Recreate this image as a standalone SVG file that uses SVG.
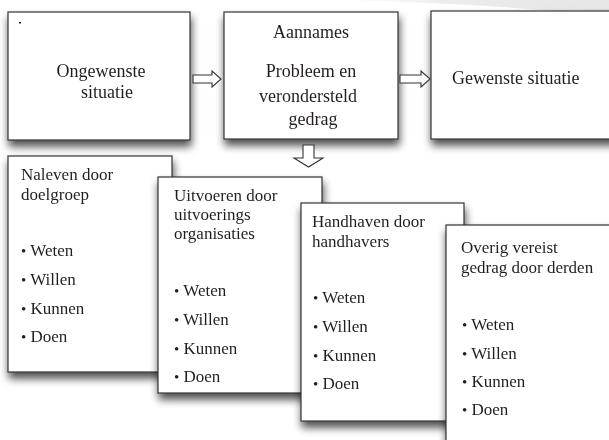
<svg xmlns="http://www.w3.org/2000/svg" width="609" height="440" viewBox="0 0 609 440">
  <defs>
    <filter id="shadow" x="-20%" y="-20%" width="140%" height="150%">
      <feGaussianBlur in="SourceAlpha" stdDeviation="4.5"/>
      <feOffset dx="1" dy="6" result="blur"/>
      <feComponentTransfer>
        <feFuncA type="linear" slope="0.7"/>
      </feComponentTransfer>
      <feMerge>
        <feMergeNode/>
        <feMergeNode in="SourceGraphic"/>
      </feMerge>
    </filter>
    <linearGradient id="swoosh" x1="0" y1="0" x2="1" y2="0">
      <stop offset="0" stop-color="#f4f4f4" stop-opacity="0"/>
      <stop offset="0.4" stop-color="#ececec"/>
      <stop offset="1" stop-color="#e6e6e6"/>
    </linearGradient>
  </defs>
  <style>
    .box { fill: #ffffff; stroke: #333333; stroke-width: 1.2; }
    .t { font-family: "Liberation Serif", "Times New Roman", serif; fill: #231f20; }
    .top { font-size: 18px; }
    .sub { font-size: 17px; }
    .dot { font-size: 15px; }
    .arrow { fill: #ffffff; stroke: #333333; stroke-width: 1.1; stroke-linejoin: miter; }
  </style>

  <rect width="609" height="440" fill="#ffffff"/>
  <!-- faint background swoosh along the top edge -->
  <path d="M330,0 L609,0 L609,16 Q470,2 330,0 Z" fill="url(#swoosh)"/>

  <!-- top row -->
  <g id="ongewenste" filter="url(#shadow)">
    <rect class="box" x="8" y="12" width="182" height="128"/>
    <rect x="19" y="22" width="2" height="1.5" fill="#231f20"/>
    <text class="t top" x="101" y="77" text-anchor="middle">Ongewenste</text>
    <text class="t top" x="107" y="98" text-anchor="middle">situatie</text>
  </g>

  <g id="aannames" filter="url(#shadow)">
    <rect class="box" x="224" y="12" width="174" height="127"/>
    <text class="t top" x="311" y="38" text-anchor="middle">Aannames</text>
    <text class="t top" x="311" y="77" text-anchor="middle">Probleem en</text>
    <text class="t top" x="308" y="102" text-anchor="middle">verondersteld</text>
    <text class="t top" x="313" y="125" text-anchor="middle">gedrag</text>
  </g>

  <g id="gewenste" filter="url(#shadow)">
    <rect class="box" x="431" y="11" width="190" height="128"/>
    <text class="t top" x="452" y="84">Gewenste situatie</text>
  </g>

  <!-- block arrows -->
  <g id="connectors">
    <path class="arrow" d="M193,75 L212,75 L212,71 L221,79 L212,87 L212,83 L193,83 Z"/>
    <path class="arrow" d="M400,75 L421,75 L421,71 L430,79 L421,87 L421,83 L400,83 Z"/>
    <path class="arrow" d="M303,145 L314,145 L314,158 L323,158 L308.5,167 L294,158 L303,158 Z"/>
  </g>

  <!-- stacked cards -->
  <g id="naleven" filter="url(#shadow)">
    <rect class="box" x="8" y="156" width="164" height="216"/>
    <text class="t sub" x="21" y="180">Naleven door</text>
    <text class="t sub" x="21" y="200">doelgroep</text>
    <text class="t sub" x="21" y="256"><tspan class="dot">•</tspan> Weten</text>
    <text class="t sub" x="21" y="285"><tspan class="dot">•</tspan> Willen</text>
    <text class="t sub" x="21" y="314"><tspan class="dot">•</tspan> Kunnen</text>
    <text class="t sub" x="21" y="342"><tspan class="dot">•</tspan> Doen</text>
  </g>

  <g id="uitvoeren" filter="url(#shadow)">
    <rect class="box" x="158" y="177" width="164" height="216"/>
    <text class="t sub" x="174" y="201">Uitvoeren door</text>
    <text class="t sub" x="174" y="220">uitvoerings</text>
    <text class="t sub" x="174" y="239">organisaties</text>
    <text class="t sub" x="174" y="296"><tspan class="dot">•</tspan> Weten</text>
    <text class="t sub" x="174" y="325"><tspan class="dot">•</tspan> Willen</text>
    <text class="t sub" x="174" y="354"><tspan class="dot">•</tspan> Kunnen</text>
    <text class="t sub" x="174" y="382"><tspan class="dot">•</tspan> Doen</text>
  </g>

  <g id="handhaven" filter="url(#shadow)">
    <rect class="box" x="301" y="203" width="163" height="218"/>
    <text class="t sub" x="312" y="227">Handhaven door</text>
    <text class="t sub" x="312" y="247">handhavers</text>
    <text class="t sub" x="313" y="303"><tspan class="dot">•</tspan> Weten</text>
    <text class="t sub" x="313" y="332"><tspan class="dot">•</tspan> Willen</text>
    <text class="t sub" x="313" y="361"><tspan class="dot">•</tspan> Kunnen</text>
    <text class="t sub" x="313" y="389"><tspan class="dot">•</tspan> Doen</text>
  </g>

  <g id="overig" filter="url(#shadow)">
    <rect class="box" x="446" y="225" width="180" height="240"/>
    <text class="t sub" x="461" y="253">Overig vereist</text>
    <text class="t sub" x="461" y="273">gedrag door derden</text>
    <text class="t sub" x="462" y="330"><tspan class="dot">•</tspan> Weten</text>
    <text class="t sub" x="462" y="359"><tspan class="dot">•</tspan> Willen</text>
    <text class="t sub" x="462" y="387"><tspan class="dot">•</tspan> Kunnen</text>
    <text class="t sub" x="462" y="415"><tspan class="dot">•</tspan> Doen</text>
  </g>
</svg>
